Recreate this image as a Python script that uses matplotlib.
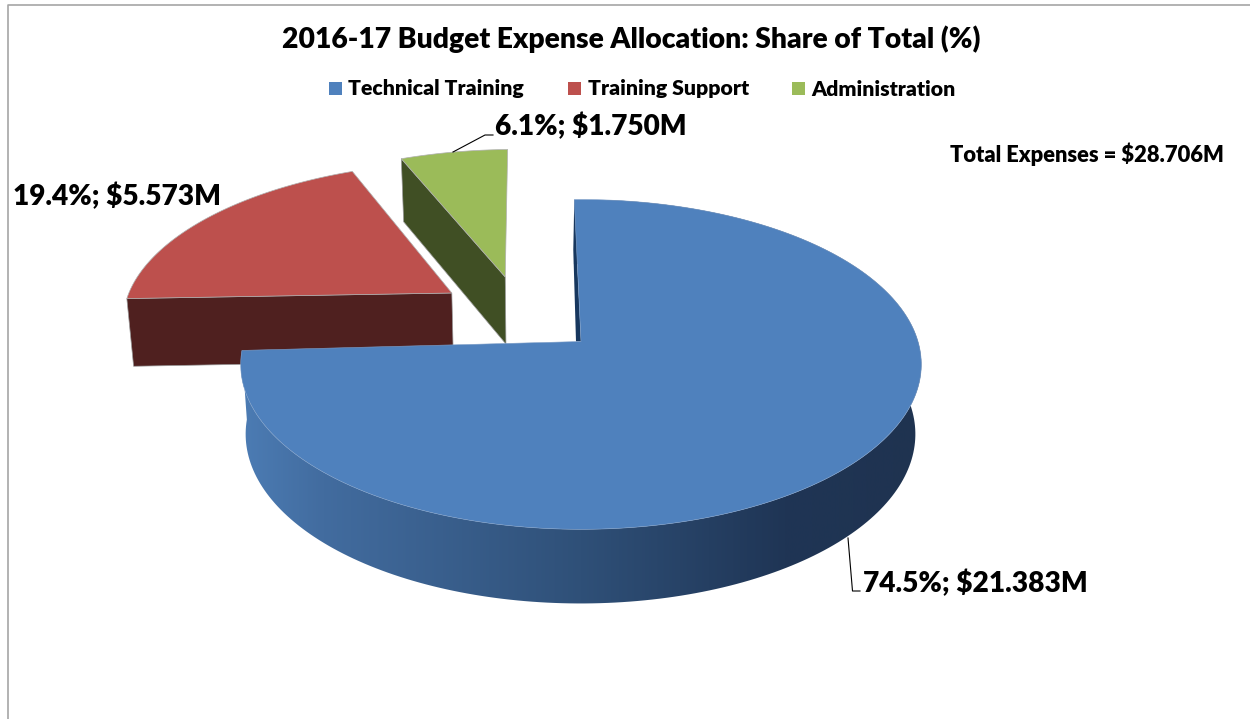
import numpy as np
import matplotlib
matplotlib.use('Agg')
import matplotlib.pyplot as plt
from matplotlib.patches import Polygon, Rectangle
from matplotlib.colors import LinearSegmentedColormap

plt.rcParams['font.family'] = ['Lato', 'DejaVu Sans']

categories = ['Technical Training', 'Training Support', 'Administration']
amounts = [21.383, 5.573, 1.750]
shares = [74.5, 19.4, 6.1]
total = 28.706

top_colors = ['#4f81bd', '#bd504d', '#9bbb59']
face_colors = ['#17375e', '#4f201f', '#404f24']
# explode of each slice, in units of the pie radius
explode = [(0.0, 0.0), (-0.4, 0.313), (-0.238, 0.4223)]

# perspective of the pie on the page (pixels)
cx, cy = 581.0, 341.5
a, b, k = 337.0, 161.7, 0.139
depth = 69.0
start = -1.3
weight = 'heavy'


def top_xy(u, v):
    den = 1 + k*v
    return cx + a*u/den, cy - b*v/den


def low_xy(u, v):
    x, y = top_xy(u, v)
    return 550 + (x - 550)*0.984, y + depth/(1 + 0.5*k*v)


def slice_uv(a0, a1, off):
    t = np.radians(np.linspace(a0, a1, 240))
    return off[0] + np.sin(t), off[1] + np.cos(t)


fig = plt.figure(figsize=(12.5, 7.19), dpi=100)
ax = fig.add_axes([0, 0, 1, 1])
ax.set_axis_off()

# angles of the slices, clockwise from the top
ang = start + np.concatenate([[0], np.cumsum(amounts)])/np.sum(amounts)*360

# red and green first, the big slice goes over them
for i in [1, 2]:
    off = explode[i]
    # red sits a touch flatter in the original
    a0 = ang[i] + 1.0 if i == 1 else ang[i]
    u, v = slice_uv(a0, ang[i+1], off)
    # the cut face that looks at us
    p = [top_xy(u[0], v[0]), top_xy(*off), low_xy(*off), low_xy(u[0], v[0])]
    ax.add_patch(Polygon(p, fc=face_colors[i], ec='#9a9a9a', lw=0.5, zorder=2))
    xs, ys = top_xy(np.r_[off[0], u], np.r_[off[1], v])
    ax.add_patch(Polygon(np.c_[xs, ys], fc=top_colors[i], ec='#b0b0b0', lw=0.5, zorder=3))

# rim of the blue slice with the left to right shading
u, v = slice_uv(ang[0], ang[1], explode[0])
tx, ty = top_xy(u, v)
lx, ly = low_xy(u, v)
rim = Polygon(np.c_[np.r_[tx, lx[::-1]], np.r_[ty, ly[::-1]]], fc='none', ec='none', zorder=4)
ax.add_patch(rim)
cmap = LinearSegmentedColormap.from_list('rim', [(0, '#4c7cb4'), (0.12, '#426c9f'), (0.5, '#2f5078'),
                                                 (0.8, '#1f3555'), (1, '#1f3350')])
im = ax.imshow(np.linspace(0, 1, 256).reshape(1, -1), cmap=cmap, aspect='auto',
               extent=(tx.min(), tx.max(), 640, 200), zorder=4)
im.set_clip_path(rim)

# thin sliver of the cut at 12 o'clock
x0, y0 = top_xy(u[0], v[0])
ax.add_patch(Polygon([(x0, y0), (cx, cy), (cx - 5, cy), (x0 - 1, y0 + 50)], fc=face_colors[0], ec='none', zorder=5))

xs, ys = top_xy(np.r_[0, u], np.r_[0, v])
ax.add_patch(Polygon(np.c_[xs, ys], fc=top_colors[0], ec='#7f9fc8', lw=0.4, zorder=6))

# data labels and leader lines
label_pos = [(863, 583, 'left'), (13, 196, 'left'), (495, 126, 'left')]
for i in range(3):
    x, y, ha = label_pos[i]
    ax.text(x, y, '%.1f%%; $%.3fM' % (shares[i], amounts[i]), fontsize=20.2, fontweight=weight,
            ha=ha, va='center', color='black', zorder=8)
ax.plot([848, 852.5, 860], [538, 591, 591], color='black', lw=0.8, zorder=7)
ax.plot([453, 485, 493], [152, 135, 135], color='black', lw=0.8, zorder=7)

ax.text(631, 39, '2016-17 Budget Expense Allocation: Share of Total (%)', fontsize=20.3,
        fontweight=weight, ha='center', va='center')
ax.text(1224, 154, 'Total Expenses = $%.3fM' % total, fontsize=15.75, fontweight=weight,
        ha='right', va='center')

# legend
legend_x = [329, 568, 792]
for i in range(3):
    ax.add_patch(Rectangle((legend_x[i], 82), 13, 13, fc=top_colors[i], ec='none'))
    ax.text(legend_x[i] + 19.5, 89, categories[i], fontsize=15.35, fontweight=weight, va='center')

# chart border
ax.plot([7.5, 7.5, 1250], [719, 4.5, 4.5], color='#a6a6a6', lw=1.2, zorder=1)

ax.set_xlim(0, 1250)
ax.set_ylim(719, 0)
fig.savefig('out.png', dpi=100)
